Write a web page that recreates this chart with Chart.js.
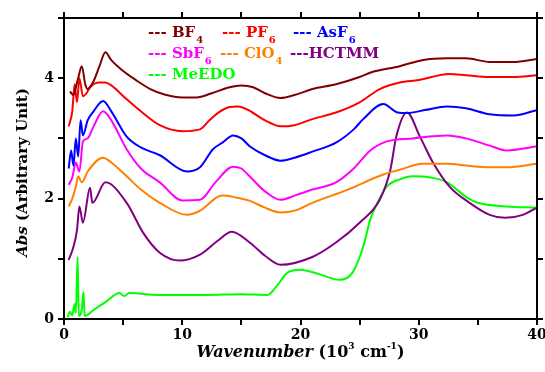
<!DOCTYPE html>
<html>
<head>
<meta charset="utf-8">
<script src="https://cdn.jsdelivr.net/npm/chart.js@4.4.1/dist/chart.umd.min.js"></script>
<style>
  html, body { margin: 0; padding: 0; background: #fff; }
  #wrap { width: 545px; height: 372px; }
</style>
</head>
<body>
<div id="wrap"><canvas id="absChart" width="545" height="372"></canvas></div>
<script>
// x in 10^3 cm^-1, y in arbitrary units
const bf4X = [0.5, 0.8, 1.0, 1.2, 1.5, 1.8, 2.0, 2.5, 3.0, 3.5, 4.0, 5.0, 6.0, 7.3, 8.5, 10, 11.2, 12.5, 14, 15, 16, 17, 18.3, 19.5, 21, 23, 25, 26, 28.4, 30.3, 32.4, 34, 36, 38, 40];
const bf4Y = [3.78, 3.72, 3.85, 4.0, 4.2, 3.9, 3.82, 3.95, 4.2, 4.43, 4.3, 4.12, 3.98, 3.82, 3.73, 3.68, 3.68, 3.75, 3.85, 3.88, 3.85, 3.75, 3.67, 3.72, 3.82, 3.9, 4.02, 4.1, 4.2, 4.3, 4.33, 4.33, 4.27, 4.27, 4.32];

const pf6X = [0.4, 0.7, 0.9, 1.1, 1.3, 1.6, 1.9, 2.2, 3.0, 3.5, 4.0, 5.3, 6.5, 8.1, 10, 11.5, 12.3, 13, 14, 14.7, 15.5, 17, 18.3, 19.5, 21, 23, 25, 26.7, 28.4, 30, 32.6, 34, 36, 38, 40];
const pf6Y = [3.2, 3.45, 3.9, 3.6, 4.0, 3.7, 3.75, 3.85, 3.93, 3.93, 3.88, 3.65, 3.45, 3.22, 3.12, 3.15, 3.3, 3.42, 3.52, 3.53, 3.48, 3.3, 3.2, 3.22, 3.32, 3.43, 3.6, 3.82, 3.93, 3.97, 4.07, 4.05, 4.02, 4.02, 4.05];

const asf6X = [0.4, 0.6, 0.8, 1.0, 1.2, 1.4, 1.6, 2.0, 2.5, 3.3, 4.0, 5.3, 6.5, 8.1, 10.4, 11.5, 12.6, 13.4, 14.3, 15, 15.7, 17, 18.3, 19.5, 21, 23, 24.5, 25.3, 27, 28.2, 29, 30.5, 32.4, 34, 36, 38, 40];
const asf6Y = [2.5, 2.8, 2.55, 3.0, 2.7, 3.3, 3.05, 3.3, 3.45, 3.62, 3.45, 3.03, 2.85, 2.72, 2.45, 2.52, 2.82, 2.93, 3.05, 3.0, 2.87, 2.72, 2.63, 2.68, 2.78, 2.93, 3.15, 3.32, 3.57, 3.43, 3.42, 3.47, 3.53, 3.5, 3.4, 3.38, 3.47];

const sbf6X = [0.4, 0.7, 1.0, 1.3, 1.6, 2.0, 2.5, 3.3, 4.0, 5.3, 6.5, 8.1, 10, 11.5, 12.8, 14.3, 15, 15.7, 17, 18.3, 19.5, 21, 23, 24.5, 25.9, 27.3, 29.5, 32.4, 34, 36, 37.4, 40];
const sbf6Y = [2.23, 2.35, 2.6, 2.45, 2.95, 3.0, 3.2, 3.45, 3.3, 2.82, 2.5, 2.27, 1.97, 1.98, 2.27, 2.53, 2.5, 2.37, 2.12, 1.98, 2.05, 2.15, 2.27, 2.5, 2.8, 2.95, 3.0, 3.05, 3.0, 2.88, 2.8, 2.87];

const clo4X = [0.4, 0.7, 1.0, 1.2, 1.5, 2.0, 3.3, 4.0, 5.3, 6.5, 8.1, 10.4, 11.5, 13, 13.5, 14.5, 15.6, 17, 18.3, 19.5, 21, 24, 27, 28.4, 30.3, 32.4, 34, 36, 37.4, 40];
const clo4Y = [1.87, 2.0, 2.2, 2.37, 2.27, 2.45, 2.68, 2.6, 2.37, 2.15, 1.93, 1.73, 1.8, 2.03, 2.05, 2.02, 1.97, 1.85, 1.77, 1.8, 1.93, 2.15, 2.4, 2.48, 2.58, 2.58, 2.55, 2.52, 2.52, 2.58];

const hctmmX = [0.4, 0.8, 1.1, 1.3, 1.6, 2.2, 2.4, 3.5, 5.3, 6.7, 8.1, 9.8, 11.5, 13, 14.2, 15.7, 17, 18.3, 21, 23, 25, 26.7, 27.6, 28.1, 29, 30.1, 31.2, 32.6, 34.3, 36, 37.3, 38.8, 40];
const hctmmY = [0.98, 1.2, 1.48, 1.87, 1.6, 2.18, 1.93, 2.27, 1.93, 1.43, 1.1, 0.97, 1.07, 1.3, 1.45, 1.27, 1.05, 0.9, 1.03, 1.27, 1.6, 1.98, 2.48, 3.03, 3.43, 3.03, 2.6, 2.2, 1.93, 1.73, 1.68, 1.73, 1.85];

const meedoX = [0.3, 0.5, 0.7, 0.9, 1.0, 1.15, 1.25, 1.5, 1.65, 1.75, 2.5, 3.5, 4.7, 5.1, 5.5, 8, 12, 15, 17.2, 18, 18.9, 20, 21.5, 23.3, 24.4, 25.3, 25.9, 26.5, 27.3, 28.4, 29.5, 31, 32.4, 34, 35, 37.4, 40];
const meedoY = [0.03, 0.12, 0.06, 0.25, 0.1, 1.03, 0.05, 0.15, 0.45, 0.05, 0.15, 0.28, 0.43, 0.38, 0.43, 0.40, 0.40, 0.41, 0.40, 0.55, 0.77, 0.82, 0.75, 0.65, 0.77, 1.2, 1.65, 1.93, 2.2, 2.32, 2.37, 2.35, 2.27, 2.03, 1.93, 1.87, 1.85];

const xTicks = [0, 10, 20, 30, 40];
const yTicks = [0, 2, 4];

const series = [
  { label: "BF4", sub: "4", name: "BF", xs: bf4X, ys: bf4Y, color: "#800000", lx: 148, ly: 37 },
  { label: "PF6", sub: "6", name: "PF", xs: pf6X, ys: pf6Y, color: "#ff0000", lx: 222, ly: 37 },
  { label: "AsF6", sub: "6", name: "AsF", xs: asf6X, ys: asf6Y, color: "#0000ff", lx: 293, ly: 37 },
  { label: "SbF6", sub: "6", name: "SbF", xs: sbf6X, ys: sbf6Y, color: "#ff00ff", lx: 148, ly: 58 },
  { label: "ClO4", sub: "4", name: "ClO", xs: clo4X, ys: clo4Y, color: "#ff8000", lx: 220, ly: 58 },
  { label: "HCTMM", sub: "", name: "HCTMM", xs: hctmmX, ys: hctmmY, color: "#800080", lx: 290, ly: 58, tight: true },
  { label: "MeEDO", sub: "", name: "MeEDO", xs: meedoX, ys: meedoY, color: "#00ff00", lx: 148, ly: 79 },
];

const SERIF = "'DejaVu Serif', serif";
const TICK = 6;

// top + right frame with outward ticks
function drawFrame(chart) {
  const { ctx, chartArea: a, scales } = chart;
  ctx.save();
  ctx.fillStyle = "#000";
  ctx.fillRect(a.left - 1, a.top - 1, a.right - a.left + 2, 2);
  ctx.fillRect(a.right - 1, a.top - 1, 2, a.bottom - a.top + 2);
  scales.x.ticks.forEach((t) => {
    const px = Math.round(scales.x.getPixelForValue(t.value));
    ctx.fillRect(px - 1, a.top - TICK, 2, TICK);
  });
  scales.y.ticks.forEach((t) => {
    const py = Math.round(scales.y.getPixelForValue(t.value));
    ctx.fillRect(a.right, py - 1, TICK, 2);
  });
  ctx.restore();
}

// legend + axis titles drawn by hand (subscripts / mixed italics)
const textPlugin = {
  id: "textPlugin",
  afterDraw(chart) {
    drawFrame(chart);
    const ctx = chart.ctx;
    ctx.save();
    ctx.textBaseline = "alphabetic";
    ctx.textAlign = "left";
    series.forEach((s) => {
      ctx.fillStyle = s.color;
      ctx.font = "bold 15px " + SERIF;
      let x = s.lx;
      const dash = s.tight ? "---" : "--- ";
      ctx.fillText(dash, x, s.ly);
      x += ctx.measureText(dash).width;
      ctx.fillText(s.name, x, s.ly);
      x += ctx.measureText(s.name).width;
      if (s.sub) {
        ctx.font = "bold 10px " + SERIF;
        ctx.fillText(s.sub, x + 1, s.ly + 6);
      }
    });

    // x title
    ctx.fillStyle = "#000";
    const parts = [
      { t: "Wavenumber", f: "italic bold 16px " + SERIF, dy: 0 },
      { t: " (10", f: "bold 16px " + SERIF, dy: 0 },
      { t: "3", f: "bold 9px " + SERIF, dy: -8 },
      { t: " cm", f: "bold 16px " + SERIF, dy: 0 },
      { t: "-1", f: "bold 9px " + SERIF, dy: -8 },
      { t: ")", f: "bold 16px " + SERIF, dy: 0 },
    ];
    let total = 0;
    parts.forEach((p) => { ctx.font = p.f; total += ctx.measureText(p.t).width; });
    const a = chart.chartArea;
    let x = (a.left + a.right) / 2 - total / 2;
    parts.forEach((p) => {
      ctx.font = p.f;
      ctx.fillText(p.t, x, 357 + p.dy);
      x += ctx.measureText(p.t).width;
    });

    // y title (rotated)
    const yparts = [
      { t: "Abs", f: "italic bold 15px " + SERIF },
      { t: " (Arbitrary Unit)", f: "bold 15px " + SERIF },
    ];
    let ytot = 0;
    yparts.forEach((p) => { ctx.font = p.f; ytot += ctx.measureText(p.t).width; });
    ctx.translate(27, (a.top + a.bottom) / 2 + 4);
    ctx.rotate(-Math.PI / 2);
    let yx = -ytot / 2;
    yparts.forEach((p) => {
      ctx.font = p.f;
      ctx.fillText(p.t, yx, 0);
      yx += ctx.measureText(p.t).width;
    });
    ctx.restore();
  },
};

const axisCommon = {
  type: "linear",
  grid: { drawOnChartArea: false, drawTicks: true, tickLength: TICK, color: "#000", lineWidth: 2 },
  border: { display: true, color: "#000", width: 2 },
};

new Chart(document.getElementById("absChart"), {
  type: "line",
  data: {
    datasets: series.map((s) => ({
      label: s.label,
      data: s.xs.map((x, i) => ({ x, y: s.ys[i] })),
      borderColor: s.color,
      backgroundColor: s.color,
      borderWidth: 2,
      pointRadius: 0,
      cubicInterpolationMode: "monotone",
      fill: false,
    })),
  },
  options: {
    responsive: false,
    animation: false,
    layout: { padding: { top: 18, right: 8, left: 0, bottom: 0 } },
    plugins: { legend: { display: false }, tooltip: { enabled: false } },
    scales: {
      x: {
        ...axisCommon,
        position: "bottom",
        min: 0, max: 40,
        ticks: {
          stepSize: 5, color: "#000", padding: 2,
          font: { family: SERIF, size: 14, weight: "bold" },
          maxRotation: 0,
          callback: (v) => (xTicks.includes(v) ? String(v) : ""),
        },
        afterFit: (s) => { s.height = 53; s.paddingLeft = 0; s.paddingRight = 0; },
      },
      y: {
        ...axisCommon,
        position: "left",
        min: 0, max: 5,
        ticks: {
          stepSize: 1, color: "#000", padding: 4,
          font: { family: SERIF, size: 14, weight: "bold" },
          callback: (v) => (yTicks.includes(v) ? String(v) : ""),
        },
        afterFit: (s) => { s.width = 64; s.paddingTop = 0; s.paddingBottom = 0; },
      },
    },
  },
  plugins: [textPlugin],
});
</script>
</body>
</html>
